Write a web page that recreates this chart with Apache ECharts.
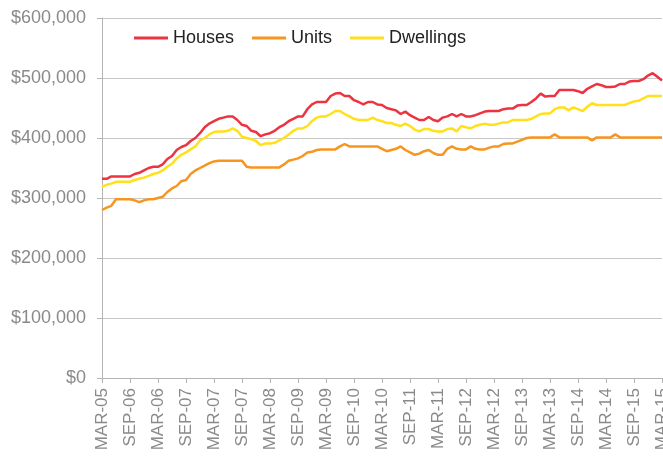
<!DOCTYPE html>
<html>
<head>
<meta charset="utf-8">
<script src="https://cdn.jsdelivr.net/npm/echarts@6/dist/echarts.min.js"></script>
<style>
    html, body { margin: 0; padding: 0; background: #fff; }
    #chart { width: 663px; height: 460px; }
</style>
</head>
<body>
<div id="chart"></div>
<script>
// tick labels, one every 6 months (as printed on the original)
const tickLabels = ['MAR-05','SEP-06','MAR-06','SEP-07','MAR-07','SEP-07','MAR-08','SEP-09','MAR-09','SEP-10',
    'MAR-10','SEP-11','MAR-11','SEP-12','MAR-12','SEP-13','MAR-13','SEP-14','MAR-14','SEP-15','MAR-15'];

// monthly median prices, $ thousands
// prettier-ignore
const houses = [332,332,336,336,336,336,336,340,342,346,350,352,352,356,365,370,380,385,388,395,
    400,408,418,424,428,432,434,436,436,430,422,420,412,410,403,406,408,412,418,422,
    428,432,436,436,448,456,460,460,460,470,474,475,470,470,463,460,456,460,460,456,
    455,450,448,446,440,444,438,434,430,430,435,430,428,434,436,440,436,440,436,436,
    438,441,444,445,445,445,448,449,449,454,455,455,460,466,474,469,470,470,480,480,
    480,480,478,475,482,486,490,488,485,485,486,490,490,494,495,495,498,504,508,502,496];
// prettier-ignore
const units = [280,284,287,298,298,298,298,296,293,296,298,298,300,302,310,316,320,328,330,340,
    346,350,354,358,361,362,362,362,362,362,362,352,351,351,351,351,351,351,351,356,
    362,364,366,370,376,377,380,381,381,381,381,386,390,386,386,386,386,386,386,386,
    382,378,380,382,386,380,376,372,374,378,380,375,372,372,382,386,382,381,381,386,
    382,381,381,384,386,386,390,391,391,394,397,400,401,401,401,401,401,406,401,401,
    401,401,401,401,401,396,401,401,401,401,406,401,401,401,401,401,401,401,401,401,401];
// prettier-ignore
const dwellings = [319,322,324,327,327,327,327,330,332,334,337,340,342,346,352,357,366,372,376,381,
    386,396,400,406,410,411,411,412,416,412,402,400,398,395,388,391,391,392,396,400,
    406,412,416,416,420,428,434,436,436,440,445,445,440,436,432,430,430,430,434,430,
    428,425,425,422,420,424,420,414,411,415,415,412,411,411,415,416,411,420,418,416,
    420,422,424,422,422,424,426,426,430,430,430,430,432,436,440,441,441,448,451,451,
    446,451,448,445,452,458,455,455,455,455,455,455,455,458,461,462,466,470,470,470,470];

function toPoints(arr) {
    return arr.map(function (v, i) { return [i, v * 1000]; });
}

var chartDom = document.getElementById('chart');
var myChart = echarts.init(chartDom);
var option;

option = {
    animation: false,
    grid: {
        left: 102,
        right: 1,
        top: 18,
        bottom: 82,
        outerBoundsMode: 'none',
    },
    legend: {
        left: 134,
        top: 29,
        padding: 0,
        itemWidth: 34,
        itemHeight: 3,
        itemGap: 18,
        icon: 'rect',
        textStyle: {
            fontSize: 18,
            color: '#222',
            fontFamily: 'Liberation Sans',
        },
        data: ['Houses', 'Units', 'Dwellings'],
    },
    xAxis: {
        type: 'value',
        min: 0,
        max: houses.length - 1,
        interval: 6,
        splitLine: { show: false },
        axisLine: { lineStyle: { color: '#b4b4b4' } },
        axisTick: { show: true, length: 5, lineStyle: { color: '#b4b4b4' } },
        axisLabel: {
            rotate: 90,
            margin: 10,
            fontSize: 17,
            color: '#8a8a8a',
            fontFamily: 'Liberation Sans',
            showMinLabel: true,
            showMaxLabel: true,
            formatter: function (v) {
                return tickLabels[Math.round(v / 6)];
            },
        },
    },
    yAxis: {
        type: 'value',
        min: 0,
        max: 600000,
        interval: 100000,
        axisLine: { show: true, lineStyle: { color: '#b4b4b4' } },
        axisTick: { show: true, length: 5, lineStyle: { color: '#b4b4b4' } },
        splitLine: { lineStyle: { color: '#c8c8c8' } },
        axisLabel: {
            margin: 16,
            fontSize: 18,
            color: '#8a8a8a',
            fontFamily: 'Liberation Sans',
            formatter: function (v) {
                return '$' + v.toLocaleString('en-US');
            },
        },
    },
    series: [
        {
            name: 'Houses',
            type: 'line',
            showSymbol: false,
            lineStyle: { width: 2.5, color: '#ec3340' },
            itemStyle: { color: '#ec3340' },
            data: toPoints(houses),
        },
        {
            name: 'Units',
            type: 'line',
            showSymbol: false,
            lineStyle: { width: 2.5, color: '#f7961f' },
            itemStyle: { color: '#f7961f' },
            data: toPoints(units),
        },
        {
            name: 'Dwellings',
            type: 'line',
            showSymbol: false,
            lineStyle: { width: 2.5, color: '#ffe01a' },
            itemStyle: { color: '#ffe01a' },
            data: toPoints(dwellings),
        },
    ],
};

option && myChart.setOption(option);
</script>
</body>
</html>
